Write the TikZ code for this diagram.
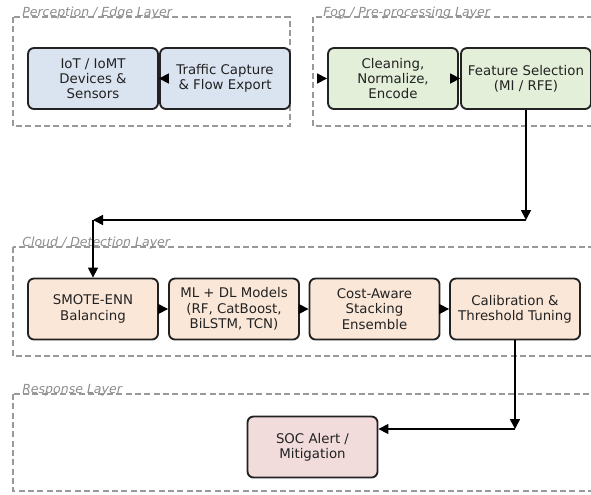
\documentclass[tikz,border=0pt]{standalone}
\usepackage{fontspec}
\setmainfont{DejaVu Sans}
\usetikzlibrary{arrows.meta}
\definecolor{bluef}{HTML}{DAE3F0}
\definecolor{greenf}{HTML}{E3EFD9}
\definecolor{orangef}{HTML}{FBE7D8}
\definecolor{pinkf}{HTML}{F2DCDB}
\definecolor{layerc}{HTML}{999999}
\definecolor{labc}{HTML}{8C8C8C}
\definecolor{inkc}{HTML}{222222}
\begin{document}
\begin{tikzpicture}[x=0.75pt,y=-0.75pt,
  box/.style={draw=inkc, line width=1.4pt, rounded corners=4.5pt, minimum width=97.5pt, minimum height=45.75pt, align=center, font=\fontsize{10}{11.4}\selectfont, text=inkc, inner sep=0pt},
  layer/.style={draw=layerc, line width=1.1pt, dash pattern=on 4.5pt off 2.5pt},
  lab/.style={anchor=base west, font=\fontsize{9.4}{10}\selectfont\itshape, text=labc, inner sep=0pt},
  arr/.style={-{Triangle[length=7.5pt,width=7.5pt]}, line width=1.2pt, draw=black}]
\useasboundingbox (0,0) rectangle (591,494);
\clip (0,0) rectangle (591,494);
% layers
\draw[layer] (13,17) rectangle (290,126);
\draw[layer] (313,17) rectangle (610,126);
\draw[layer] (13,247) rectangle (610,356);
\draw[layer] (13,394) rectangle (610,491);
\node[lab] (l1) at (22,16) {Perception / Edge Layer};
\node[lab] (l2) at (323,16) {Fog / Pre-processing Layer};
\node[lab] (l3) at (22,246) {Cloud / Detection Layer};
\node[lab] (l4) at (22,393) {Response Layer};
% nodes
\node[box, fill=bluef] (iot) at (93,78.5) {IoT / IoMT\\Devices \&\\Sensors};
\node[box, fill=bluef] (traffic) at (225,78.5) {Traffic Capture\\\& Flow Export};
\node[box, fill=greenf] (cleaning) at (393,78.5) {Cleaning,\\Normalize,\\Encode};
\node[box, fill=greenf] (feature) at (526,78.5) {Feature Selection\\(MI / RFE)};
\node[box, fill=orangef] (smote) at (93,309) {SMOTE-ENN\\Balancing};
\node[box, fill=orangef] (ml) at (234,309) {ML + DL Models\\(RF, CatBoost,\\BiLSTM, TCN)};
\node[box, fill=orangef] (cost) at (374.5,309) {Cost-Aware\\Stacking\\Ensemble};
\node[box, fill=orangef] (cal) at (515,309) {Calibration \&\\Threshold Tuning};
\node[box, fill=pinkf] (soc) at (312.5,447) {SOC Alert /\\Mitigation};
% connectors
\coordinate (c1) at (526,220);
\coordinate (c2) at (93,220);
\coordinate (c3) at (515,429);
\draw[arr] (traffic.west) -- (iot.east);
\draw[arr, shorten <=20pt] (traffic.east) -- (cleaning.west);
\draw[arr] (cleaning) -- (feature);
\draw[arr] (feature.south) -- (c1);
\draw[arr] (c1) -- (c2);
\draw[arr] (c2) -- (smote.north);
\draw[arr] (smote) -- (ml);
\draw[arr] (ml) -- (cost);
\draw[arr] (cost) -- (cal);
\draw[arr] (cal.south) -- (c3);
\draw[arr] (c3) -- (c3 -| soc.east);
\end{tikzpicture}
\end{document}
